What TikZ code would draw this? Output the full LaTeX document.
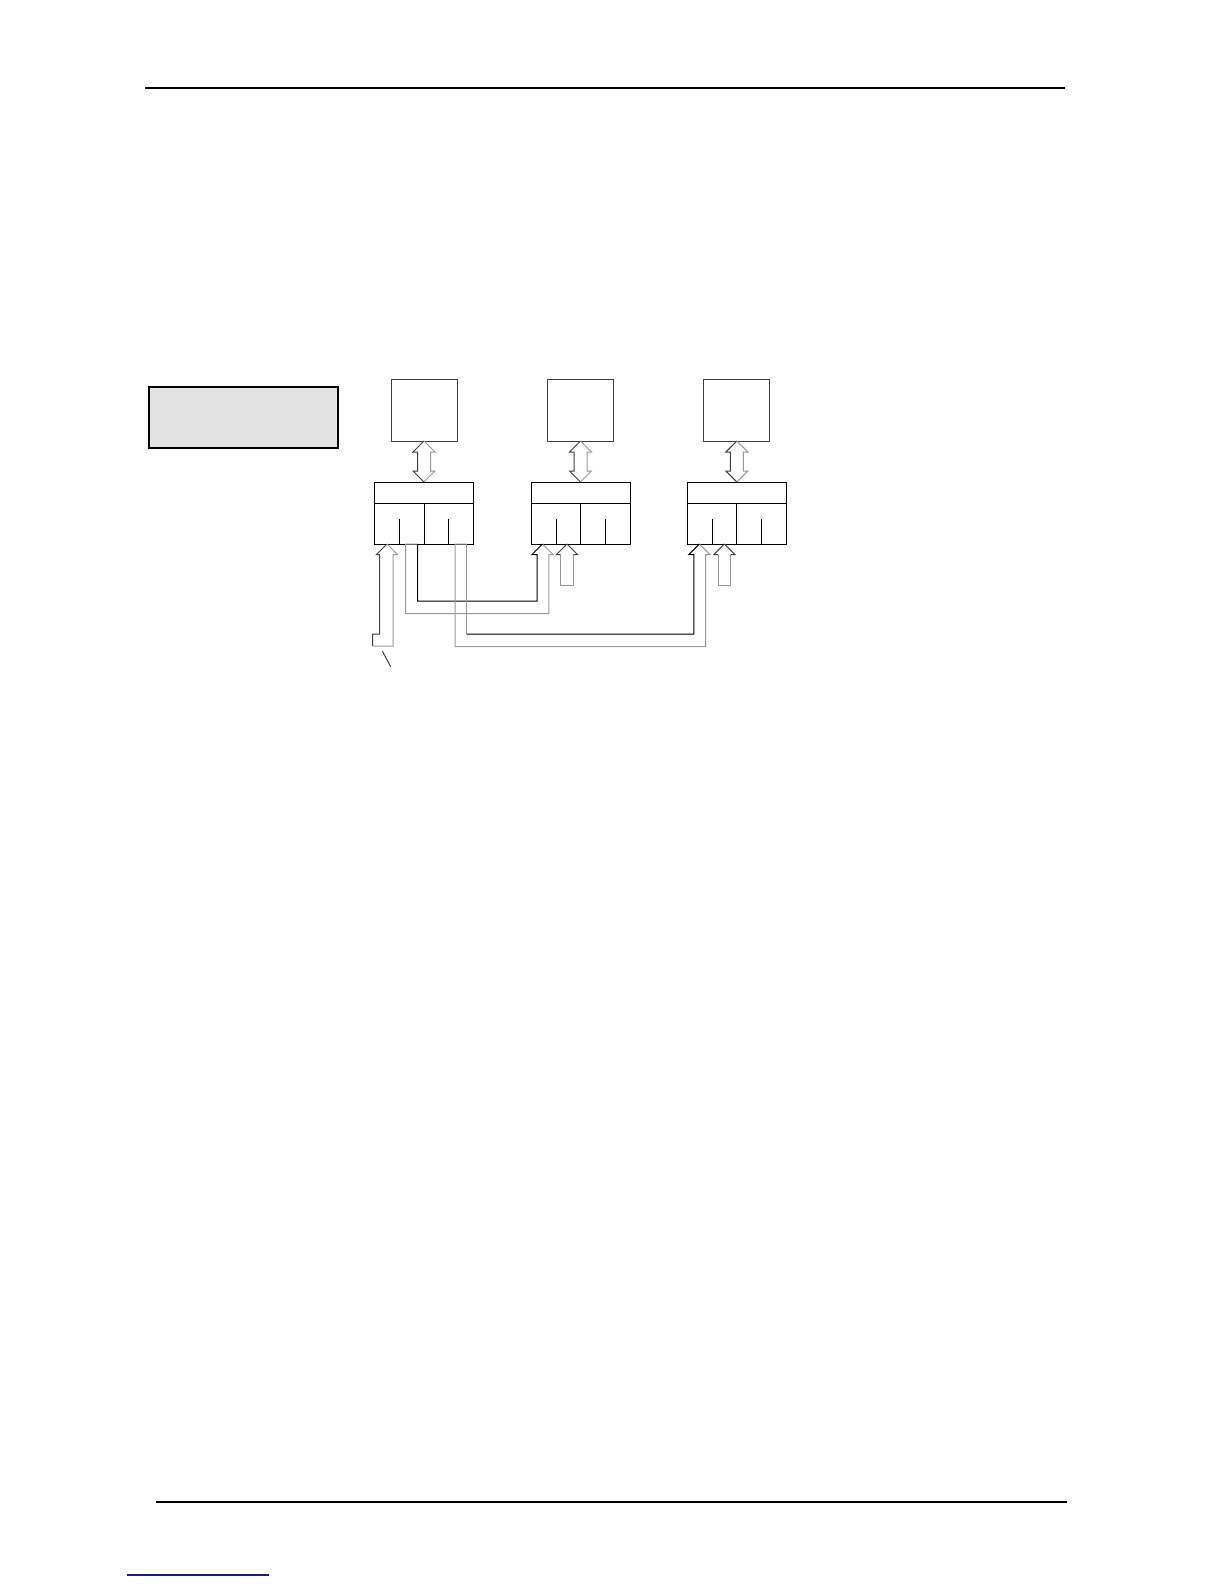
\documentclass[tikz,border=0pt]{standalone}
\usetikzlibrary{calc}

\colorlet{dunkel}{black!75}
\colorlet{hell}{black!40}
\definecolor{linkblau}{RGB}{28,28,140}

\tikzset{
  kasten/.style={draw=dunkel,line width=0.5pt,minimum width=33pt,minimum height=31pt,inner sep=0pt,outer sep=0pt},
  schnitt/.style={draw=black,line width=0.5pt,minimum width=49.5pt,minimum height=31pt,inner sep=0pt,outer sep=0pt},
  infokasten/.style={draw=black,line width=1pt,fill=black!11,minimum width=94.5pt,minimum height=30.5pt,inner sep=0pt,outer sep=0pt},
}

% Doppelpfeil zwischen Speicher und Schnittstelle
\newcommand{\doppelpfeil}[2]{%
  \draw[dunkel] (#1.south) -- ++(-11,11) -- ++(4.5,0) -- ++(0,19) -- ++(-4.5,0) -- (#2.north);
  \draw[hell] (#1.south) -- ++(11,11) -- ++(-4.5,0) -- ++(0,19) -- ++(4.5,0) -- (#2.north);
}

% Unterteilung einer Schnittstelle
\newcommand{\felder}[1]{%
  \draw ($(#1.north west)+(0,21)$) -- ($(#1.north east)+(0,21)$);
  \draw ($(#1.north)+(0,21)$) -- (#1.south);
  \draw ($(#1.south west)+(25,0)$) -- ++(0,-25);
  \draw ($(#1.south west)+(74,0)$) -- ++(0,-25);
}

\begin{document}
\begin{tikzpicture}[x=0.5pt,y=-0.5pt,line width=0.5pt]

\useasboundingbox (0,0) rectangle (1224,1584);

% Kopf- und Fusslinie
\draw[line width=1pt] (145,88) -- (1065,88);
\draw[line width=1pt] (156,1502) -- (1067,1502);
\draw[linkblau,line width=0.8pt] (127,1575) -- (269,1575);

% grauer Kasten links
\node[infokasten] (info) at (243,417.5) {};

% Speicher oben
\node[kasten] (k1) at (424,410) {};
\node[kasten] (k2) at (580.5,410) {};
\node[kasten] (k3) at (736.8,410) {};

% Schnittstellen
\node[schnitt] (s1) at (424,513) {};
\node[schnitt] (s2) at (580.5,513) {};
\node[schnitt] (s3) at (736.8,513) {};
\felder{s1}
\felder{s2}
\felder{s3}

% Doppelpfeile
\doppelpfeil{k1}{s1}
\doppelpfeil{k2}{s2}
\doppelpfeil{k3}{s3}

% Eingaenge
\coordinate (e11) at ($(s1.south west)+(12.5,0)$);
\coordinate (e21) at ($(s2.south west)+(11.5,0)$);
\coordinate (e22) at ($(s2.south west)+(36,0)$);
\coordinate (e31) at ($(s3.south west)+(12,0)$);
\coordinate (e32) at ($(s3.south west)+(37,0)$);

% Eingang links mit Knick
\draw[dunkel] (e11) -- ++(-10.5,10.5) -- ++(3,0) -- ++(0,79.5) -- ++(-7,0) -- ++(0,12);
\draw[hell] (e11) -- ++(10.5,10.5) -- ++(-4.5,0) -- ++(0,91.5) -- ++(-20.5,0);
\draw[dunkel] ($(e11)+(-4.7,107)$) -- ++(8.4,15.7);

% kurze Eingaenge
\draw[dunkel] (e22) -- ++(-10.5,10.5) -- ++(4.2,0);
\draw[hell] ($(e22)+(-6.3,10.5)$) -- ++(0,30.5) -- ++(12.6,0) -- ++(0,-30.5);
\draw[dunkel] (e22) -- ++(10.5,10.5) -- ++(-4.2,0);
\draw[dunkel] (e32) -- ++(-10.5,10.5) -- ++(4.2,0);
\draw[hell] ($(e32)+(-6.3,10.5)$) -- ++(0,30.5) -- ++(12.6,0) -- ++(0,-30.5);
\draw[dunkel] (e32) -- ++(10.5,10.5) -- ++(-4.2,0);

% Leitung A: s1 -> s2
\draw[hell] ($(s1.south west)+(43,0)$) -- ($(s1.south west)+(31,0)$) |- ($(e21)+(6.3,69.5)$) -- ($(e21)+(6.3,10.5)$) -- ($(e21)+(10.5,10.5)$) -- (e21);
\draw ($(s1.south west)+(43,0)$) |- ($(e21)+(-5.5,57)$) -- ($(e21)+(-5.5,10.5)$) -- ($(e21)+(-10.5,10.5)$) -- (e21);

% Leitung B: s1 -> s3
\coordinate (b1) at ($(s1.south west)+(92,0)$);
\coordinate (b2) at ($(e31)+(-5.5,90)$);
\draw[hell] (b1) -- ($(s1.south west)+(80.5,0)$) |- ($(e31)+(6.3,102.5)$) -- ($(e31)+(6.3,10.5)$) -- ($(e31)+(10.5,10.5)$) -- (e31);
\draw[hell] (b1) -- (b1 |- b2);
\draw (b1 |- b2) -- (b2) -- ($(e31)+(-5.5,10.5)$) -- ($(e31)+(-10.5,10.5)$) -- (e31);

\end{tikzpicture}
\end{document}
